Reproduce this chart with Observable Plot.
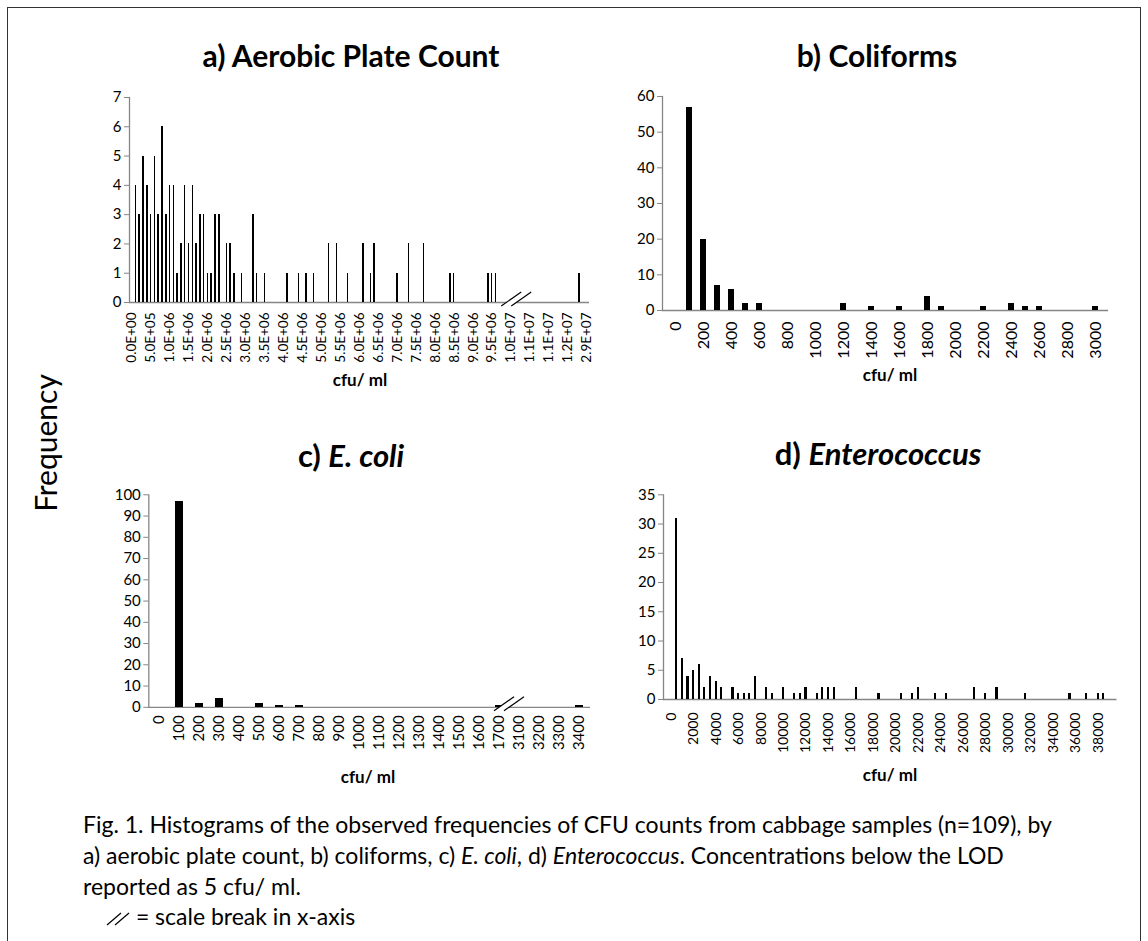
<!DOCTYPE html>
<html><head><meta charset="utf-8">
<script src="https://cdn.jsdelivr.net/npm/d3@7"></script>
<script src="https://cdn.jsdelivr.net/npm/@observablehq/plot@0.6"></script>
<style>
body{margin:0;background:#fff;}
#fig{position:relative;width:1148px;height:941px;background:#fff;font-family:Lato,"Open Sans",sans-serif;color:#000;overflow:hidden}
#border{position:absolute;left:7px;top:7px;width:1132px;height:950px;border-left:1px solid #333;border-top:1px solid #333;border-right:1px solid #333}
.t{position:absolute;transform:translate(-50%,-50%);font-weight:bold;font-size:30px;white-space:nowrap}
.xl{position:absolute;transform:translate(-50%,-50%);font-weight:bold;font-size:17px;white-space:nowrap}
.yl{position:absolute;transform:translate(-50%,-50%) rotate(-90deg);font-size:30px;white-space:nowrap}
.p{position:absolute}
#cap{position:absolute;left:83px;top:809px;font-size:23px;line-height:31px;white-space:nowrap}
#leg{position:absolute;left:106px;top:902px;font-size:23px;line-height:28px;white-space:nowrap}
</style></head><body>
<div id="fig">
  <div id="border"></div>
  <div class="t" style="left:351px;top:55px">a) Aerobic Plate Count</div>
  <div class="t" style="left:877px;top:55px">b) Coliforms</div>
  <div class="t" style="left:351px;top:455px;font-size:31px">c) <i>E. coli</i></div>
  <div class="t" style="left:878px;top:453px;font-size:31px">d) <i>Enterococcus</i></div>
  <div class="yl" style="left:45px;top:443px">Frequency</div>
  <div class="xl" style="left:360px;top:379px">cfu/ ml</div>
  <div class="xl" style="left:890px;top:374px">cfu/ ml</div>
  <div class="xl" style="left:368px;top:776px">cfu/ ml</div>
  <div class="xl" style="left:890px;top:774px">cfu/ ml</div>
  <div id="pa" class="p" style="left:60px;top:80px"></div>
  <div id="pb" class="p" style="left:600px;top:80px"></div>
  <div id="pc" class="p" style="left:60px;top:475px"></div>
  <div id="pd" class="p" style="left:600px;top:475px"></div>
  <div id="cap">Fig. 1. Histograms of the observed frequencies of CFU counts from cabbage samples (n=109), by<br>a) aerobic plate count, b) coliforms, c) <i>E. coli</i>, d) <i>Enterococcus</i>. Concentrations below the LOD<br>reported as 5 cfu/ ml.</div>
  <div id="leg"><svg width="24" height="16" style="vertical-align:-1px"><line x1="1" y1="15" x2="15" y2="3" stroke="#000" stroke-width="1.2"/><line x1="9" y1="15" x2="23" y2="3" stroke="#000" stroke-width="1.2"/></svg> = scale break in x-axis</div>
</div>
<script>
// ---------- a) Aerobic Plate Count (bins of 1E+05 cfu/ml, index 0..120; last bin after scale break) ----------
const aBinCount = 121;
const aBarBins = [1,2,3,4,5,6,7,8,9,10,11,12,13,14,15,16,17,18,19,20,21,22,23,25,26,27,29,32,33,35,41,44,46,48,52,54,57,61,63,64,70,73,77,84,85,94,95,96,118];
const aCounts  = [4,3,5,4,3,5,3,6,3,4,4,1,2,4,2,4,2,3,3,1,1,3,3,2,2,1,1,3,1,1,1,1,1,1,2,2,1,2,1,2,1,2,2,1,1,1,1,1,1];
const aTickLabels = ["0.0E+00","5.0E+05","1.0E+06","1.5E+06","2.0E+06","2.5E+06","3.0E+06","3.5E+06","4.0E+06","4.5E+06","5.0E+06","5.5E+06","6.0E+06","6.5E+06","7.0E+06","7.5E+06","8.0E+06","8.5E+06","9.0E+06","9.5E+06","1.0E+07","1.1E+07","1.1E+07","1.2E+07","2.9E+07"];
const aTickEvery = 5;
const aYTicks = [0,1,2,3,4,5,6,7];

// ---------- b) Coliforms ----------
const bCategories = [0,100,200,300,400,500,600,700,800,900,1000,1100,1200,1300,1400,1500,1600,1700,1800,1900,2000,2100,2200,2300,2400,2500,2600,2700,2800,2900,3000];
const bBars   = [100,200,300,400,500,600,1200,1400,1600,1800,1900,2200,2400,2500,2600,3000];
const bCounts = [57,20,7,6,2,2,2,1,1,4,1,1,2,1,1,1];
const bTickLabels = [0,200,400,600,800,1000,1200,1400,1600,1800,2000,2200,2400,2600,2800,3000];
const bYTicks = [0,10,20,30,40,50,60];

// ---------- c) E. coli ----------
const cCategories = ["0","100","200","300","400","500","600","700","800","900","1000","1100","1200","1300","1400","1500","1600","1700","3100","3200","3300","3400"];
const cBars   = ["100","200","300","500","600","700","1700","3400"];
const cCounts = [97,2,4,2,1,1,1,1];
const cYTicks = [0,10,20,30,40,50,60,70,80,90,100];

// ---------- d) Enterococcus ----------
const dCategories = [0,500,1000,1500,2000,2500,3000,3500,4000,4500,5000,5500,6000,6500,7000,7500,8000,8500,9000,9500,10000,10500,11000,11500,12000,12500,13000,13500,14000,14500,15000,15500,16000,16500,17000,17500,18000,18500,19000,19500,20000,20500,21000,21500,22000,22500,23000,23500,24000,24500,25000,25500,26000,26500,27000,27500,28000,28500,29000,29500,30000,30500,31000,31500,32000,32500,33000,33500,34000,34500,35000,35500,36000,36500,37000,37500,38000,38500,39000];
const dBars   = [500,1000,1500,2000,2500,3000,3500,4000,4500,5500,6000,6500,7000,7500,8500,9000,10000,11000,11500,12000,13000,13500,14000,14500,16500,18500,20500,21500,22000,23500,24500,27000,28000,29000,31500,35500,37000,38000,38500];
const dCounts = [31,7,4,5,6,2,4,3,2,2,1,1,1,4,2,1,2,1,1,2,1,2,2,2,2,1,1,1,2,1,1,2,1,2,1,1,1,1,1];
const dTickLabels = [0,2000,4000,6000,8000,10000,12000,14000,16000,18000,20000,22000,24000,26000,28000,30000,32000,34000,36000,38000];
const dYTicks = [0,5,10,15,20,25,30,35];

const AXIS = "#868686";

function panel(o) {
  const data = o.bars.map((b, i) => ({bin: b, n: o.counts[i]}));
  const plot = Plot.plot({
    width: o.width, height: o.height,
    marginLeft: o.x0 - o.left, marginRight: o.left + o.width - o.x1,
    marginTop: o.yTop - o.top, marginBottom: o.top + o.height - o.yBase,
    style: {background: "transparent", fontFamily: "Lato, sans-serif", color: "#000", overflow: "visible"},
    x: {type: "band", domain: o.cats, paddingInner: o.pi, paddingOuter: o.po, align: 0.5},
    y: {domain: [0, o.yTicks[o.yTicks.length - 1]]},
    marks: [
      Plot.ruleY([0], {stroke: AXIS, strokeWidth: 1.3}),
      Plot.frame({anchor: "left", stroke: AXIS, strokeWidth: 1.3}),
      Plot.barY(data, {x: "bin", y: "n", fill: "#000", shapeRendering: "crispEdges"}),
      Plot.axisY({ticks: o.yTicks, tickFormat: d => String(d), tickSize: 5, tickPadding: 3, stroke: AXIS, fill: "#000", fontSize: 15, label: null}),
      Plot.axisX({ticks: o.ticks, tickFormat: o.fmt, tickRotate: -90, tickSize: 0, tickPadding: o.pad, fontSize: o.xFont, fill: "#000", label: null})
    ]
  });
  document.getElementById(o.id).appendChild(plot);
  if (o.breakBetween) {
    const xs = plot.scale("x"), ys = plot.scale("y");
    const bw = xs.bandwidth || 0;
    const cx = (xs.apply(o.breakBetween[0]) + xs.apply(o.breakBetween[1])) / 2 + bw / 2;
    const cy = ys.apply(0) - 3;
    const svg = d3.select(plot);
    const hw = 10, hh = 7, off = 5;
    svg.append("polygon")
      .attr("points", [[cx - off - hw, cy + hh], [cx - off + hw, cy - hh], [cx + off + hw, cy - hh], [cx + off - hw, cy + hh]].map(p => p.join(",")).join(" "))
      .attr("fill", "#fff");
    for (const s of [-off, off]) {
      svg.append("line").attr("x1", cx + s - hw).attr("y1", cy + hh).attr("x2", cx + s + hw).attr("y2", cy - hh)
        .attr("stroke", "#000").attr("stroke-width", 1.2);
    }
  }
}

panel({id: "pa", left: 60, top: 80, width: 560, height: 330, x0: 129, x1: 589, yTop: 97, yBase: 302,
  cats: d3.range(aBinCount), bars: aBarBins, counts: aCounts, yTicks: aYTicks,
  ticks: aTickLabels.map((_, i) => i * aTickEvery), fmt: d => aTickLabels[d / aTickEvery],
  pi: 0.6, po: 0.5, pad: 10, xFont: 13.5, breakBetween: [101, 102]});

panel({id: "pb", left: 600, top: 80, width: 540, height: 330, x0: 662, x1: 1108, yTop: 96, yBase: 310,
  cats: bCategories, bars: bBars, counts: bCounts, yTicks: bYTicks,
  ticks: bTickLabels, fmt: d => String(d), pi: 0.6, po: 0.62, pad: 11, xFont: 16});

panel({id: "pc", left: 60, top: 475, width: 560, height: 330, x0: 148.3, x1: 590, yTop: 494.3, yBase: 706.8,
  cats: cCategories, bars: cBars, counts: cCounts, yTicks: cYTicks,
  ticks: cCategories, fmt: d => d, pi: 0.6, po: 0.34, pad: 8, xFont: 15, breakBetween: ["1700", "3100"]});

panel({id: "pd", left: 600, top: 475, width: 540, height: 330, x0: 663, x1: 1116.5, yTop: 494.3, yBase: 699,
  cats: dCategories, bars: dBars, counts: dCounts, yTicks: dYTicks,
  ticks: dTickLabels, fmt: d => String(d), pi: 0.62, po: 1.17, pad: 13, xFont: 14});
</script>
</body></html>
